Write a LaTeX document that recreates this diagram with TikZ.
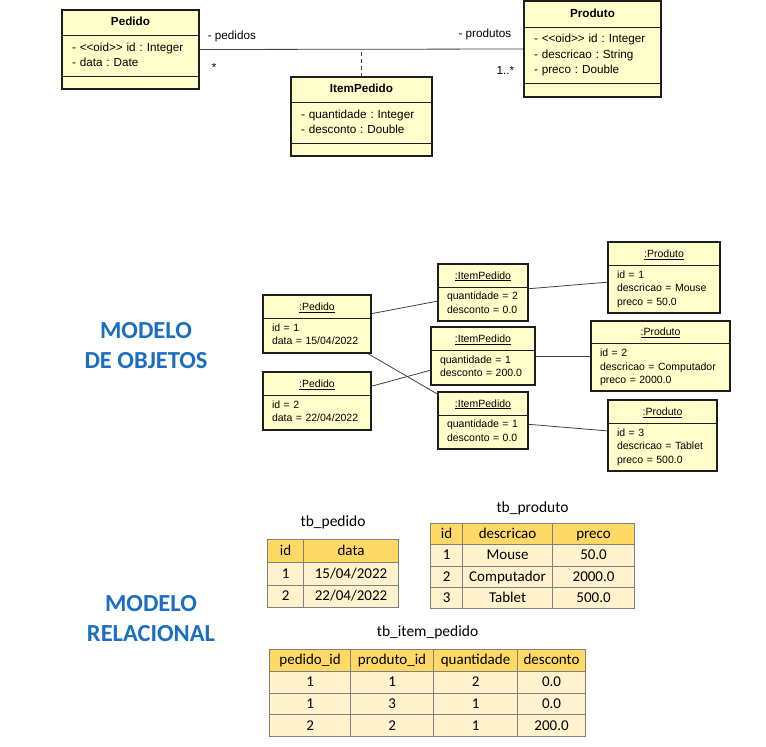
\documentclass[tikz,border=0pt]{standalone}
\usepackage{fontspec}
\setmainfont{Carlito}
\newfontfamily\umlfont{Liberation Sans}
\usetikzlibrary{shapes.multipart,matrix,positioning}
\definecolor{umlfill}{HTML}{FFFFCC}
\definecolor{umldraw}{HTML}{1E1E1E}
\definecolor{tblhead}{HTML}{FFD966}
\definecolor{tblrow}{HTML}{FFF2CC}
\definecolor{tblline}{HTML}{808080}
\definecolor{modelblue}{HTML}{1C6FC0}
\newcommand{\classtitle}[1]{\hfill\textbf{#1}\hfill\strut}
\newcommand{\objtitle}[1]{\hfill\underline{#1}\hfill\rule[-4.5pt]{0pt}{16pt}}
\begin{document}
\begin{tikzpicture}[x=1pt, y=-1pt,
  umlclass/.style={rectangle split, rectangle split parts=3, draw=umldraw, fill=umlfill, line width=0.8pt,
    inner xsep=10pt, inner ysep=4.5pt, align=left, font=\umlfont\fontsize{11.7}{15.5}\selectfont\frenchspacing},
  umlobject/.style={rectangle split, rectangle split parts=2, draw=umldraw, fill=umlfill, line width=0.8pt,
    inner xsep=9pt, inner ysep=3pt, align=left, font=\umlfont\fontsize{10.5}{13.5}\selectfont\frenchspacing},
  umlframe/.style={draw=umldraw, line width=2pt},
  link/.style={draw=black!75, line width=0.8pt},
  rolelabel/.style={font=\umlfont\fontsize{11.7}{14}\selectfont, inner sep=0pt},
  modellabel/.style={font=\fontsize{24.5}{30}\selectfont\bfseries, text=modelblue, align=center},
  tbl/.style={matrix of nodes, nodes in empty cells, anchor=north west, inner sep=0pt,
    row sep=-0.7pt, column sep=-0.7pt,
    nodes={draw=tblline, line width=0.7pt, fill=tblrow, inner sep=0pt, anchor=center,
      text height=11.5pt, text depth=2.5pt, font=\fontsize{15}{18}\selectfont},
    row 1/.style={nodes={fill=tblhead}}},
  tbltitle/.style={font=\fontsize{15.5}{18}\selectfont, inner sep=0pt}]
\useasboundingbox (0,0) rectangle (766,747);

% class diagram
\node[umlclass, text width=117pt] (pedido) at (130.5,49.5)
  {\classtitle{Pedido}
   \nodepart{two}- <{}<oid>{}> id : Integer\strut\\- data : Date\strut
   \nodepart{three}\rule{0pt}{3pt}};
\node[umlclass, text width=117pt] (produto) at (592.5,49)
  {\classtitle{Produto}
   \nodepart{two}- <{}<oid>{}> id : Integer\strut\\- descricao : String\strut\\- preco : Double\strut
   \nodepart{three}\rule{0pt}{3pt}};
\node[umlclass, text width=121pt] (item) at (361.5,116.5)
  {\classtitle{ItemPedido}
   \nodepart{two}- quantidade : Integer\strut\\- desconto : Double\strut
   \nodepart{three}\rule{0pt}{3pt}};
\draw[link] (pedido.east) -- coordinate[midway] (assoc) (produto.west)
  node[rolelabel, pos=0, anchor=south west, xshift=8pt, yshift=7pt] (pedrole) {- pedidos}
  node[rolelabel, pos=0, anchor=north west, xshift=12pt, yshift=-13.8pt] (pedmult) {*}
  node[rolelabel, pos=1, anchor=south east, xshift=-12pt, yshift=8.5pt] (prodrole) {- produtos}
  node[rolelabel, pos=1, anchor=north east, xshift=-9pt, yshift=-17pt] (prodmult) {1..*};
\draw[link, dash pattern=on 4pt off 3pt] (item.north) -- (item.north |- assoc);

% object diagram
\node[modellabel] (objlabel) at (146,346) {MODELO\\DE OBJETOS};
\node[umlobject, text width=90pt] (ped1) at (317,324)
  {\objtitle{:Pedido}\nodepart{two}id = 1\strut\\data = 15/04/2022\strut};
\node[umlobject, text width=90pt] (ped2) at (317,401)
  {\objtitle{:Pedido}\nodepart{two}id = 2\strut\\data = 22/04/2022\strut};
\node[umlobject, text width=72pt] (item1) at (483,292.5)
  {\objtitle{:ItemPedido}\nodepart{two}quantidade = 2\strut\\desconto = 0.0\strut};
\node[umlobject, text width=86pt] (item2) at (483,356)
  {\objtitle{:ItemPedido}\nodepart{two}quantidade = 1\strut\\desconto = 200.0\strut};
\node[umlobject, text width=72pt] (item3) at (483,420.5)
  {\objtitle{:ItemPedido}\nodepart{two}quantidade = 1\strut\\desconto = 0.0\strut};
\node[umlobject, text width=94pt] (prod1) at (664,277.5)
  {\objtitle{:Produto}\nodepart{two}id = 1\strut\\descricao = Mouse\strut\\preco = 50.0\strut};
\node[umlobject, text width=121pt] (prod2) at (660.5,356)
  {\objtitle{:Produto}\nodepart{two}id = 2\strut\\descricao = Computador\strut\\preco = 2000.0\strut};
\node[umlobject, text width=91pt] (prod3) at (662.5,435.5)
  {\objtitle{:Produto}\nodepart{two}id = 3\strut\\descricao = Tablet\strut\\preco = 500.0\strut};
\draw[link] (ped1) -- (item1);
\draw[link] (ped1) -- (item3);
\draw[link] (ped2) -- (item2);
\draw[link] (item1) -- (prod1);
\draw[link] (item2) -- (prod2);
\draw[link] (item3) -- (prod3);
\foreach \n in {pedido,produto,item,ped1,ped2,item1,item2,item3,prod1,prod2,prod3}
  \draw[umlframe] (\n.north west) rectangle (\n.south east);

% relational model
\node[modellabel] (rellabel) at (151,619) {MODELO\\RELACIONAL};
\matrix[tbl, nodes={minimum height=22.7pt},
  column 1/.style={nodes={minimum width=36pt}},
  column 2/.style={nodes={minimum width=95pt}}] (tbpedido) at (267,539) {
  id & data \\
  1 & 15/04/2022 \\
  2 & 22/04/2022 \\
};
\matrix[tbl, nodes={minimum height=21.25pt},
  column 1/.style={nodes={minimum width=32pt}},
  column 2/.style={nodes={minimum width=90pt}},
  column 3/.style={nodes={minimum width=82pt}}] (tbproduto) at (430,523) {
  id & descricao & preco \\
  1 & Mouse & 50.0 \\
  2 & Computador & 2000.0 \\
  3 & Tablet & 500.0 \\
};
\matrix[tbl, nodes={minimum height=21.75pt},
  column 1/.style={nodes={minimum width=81pt}},
  column 2/.style={nodes={minimum width=83pt}},
  column 3/.style={nodes={minimum width=84pt}},
  column 4/.style={nodes={minimum width=68pt}}] (tbitem) at (269,649) {
  pedido\_id & produto\_id & quantidade & desconto \\
  1 & 1 & 2 & 0.0 \\
  1 & 3 & 1 & 0.0 \\
  2 & 2 & 1 & 200.0 \\
};
\node[tbltitle, above=10pt of tbpedido] (tbpedidotitle) {tb\_pedido};
\node[tbltitle, above=8pt of tbproduto] (tbprodutotitle) {tb\_produto};
\node[tbltitle, above=10pt of tbitem] (tbitemtitle) {tb\_item\_pedido};
\end{tikzpicture}
\end{document}
